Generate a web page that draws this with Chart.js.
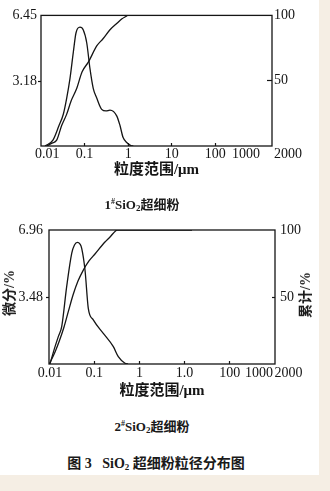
<!DOCTYPE html>
<html>
<head>
<meta charset="utf-8">
<script src="https://cdn.jsdelivr.net/npm/chart.js@4/dist/chart.umd.min.js"></script>
<style>
  html, body { margin: 0; padding: 0; background: #f5eee4; }
  #page { position: relative; width: 319px; height: 475px; background: #ffffff; overflow: visible; }
  canvas { position: absolute; left: 0; }
  #c1 { top: 0; }
  #c2 { top: 212px; }
  .txt {
    position: absolute; white-space: nowrap; color: #1a1a1a;
    font-family: 'Liberation Serif', 'Noto Sans CJK SC', serif;
    transform: translate(-50%, -50%);
  }
  .cap { font-size: 13px; font-weight: bold; }
  .fig { font-size: 14px; font-weight: bold; }
  .ytitle { font-size: 14px; font-weight: bold; transform: translate(-50%, -50%) rotate(-90deg); }
  sup { font-size: 8px; vertical-align: 5px; }
  sub { font-size: 9px; vertical-align: -2px; }
</style>
</head>
<body>
<div id="page">
  <canvas id="c1" width="330" height="185"></canvas>
  <canvas id="c2" width="330" height="190"></canvas>
  <div class="txt cap" style="left:142px; top:203px;">1<sup>#</sup>SiO<sub>2</sub>超细粉</div>
  <div class="txt ytitle" style="left:8px; top:293px;">微分/%</div>
  <div class="txt ytitle" style="left:304px; top:295px;">累计/%</div>
  <div class="txt cap" style="left:152px; top:425px;">2<sup>#</sup>SiO<sub>2</sub>超细粉</div>
  <div class="txt fig" style="left:156px; top:462px;">图 3&nbsp;&nbsp;&nbsp;SiO<sub>2</sub> 超细粉粒径分布图</div>
</div>
<script>
// ---- 1# SiO2 powder: particle size (μm) vs differential % and cumulative % ----
const diffSize1 = [0.0124, 0.0188, 0.0259, 0.0325, 0.0389, 0.0463, 0.0551, 0.0635, 0.0785, 0.0935,
                   0.112, 0.133, 0.158, 0.19, 0.247, 0.31, 0.383, 0.546, 0.65, 0.762, 0.927, 1.16, 1.31];
const diffPct1  = [0, 0.29, 1.01, 1.57, 2.37, 3.34, 4.62, 5.58, 5.87, 5.73,
                   5.10, 3.82, 2.85, 2.37, 1.81, 1.73, 1.77, 1.49, 1.01, 0.43, 0.17, 0.02, 0];
const cumSize1  = [0.0135, 0.0179, 0.0229, 0.0298, 0.0389, 0.0488, 0.0659, 0.0873, 0.122, 0.19,
                   0.265, 0.383, 0.555, 0.722, 0.927, 0.96];
const cumPct1   = [0, 2.2, 4.5, 15.7, 24.4, 34.3, 44, 56.7, 64.2, 76.6,
                   82.1, 89, 94, 97.4, 99.6, 100];

// ---- 2# SiO2 powder ----
const diffSize2 = [0.0105, 0.0136, 0.0162, 0.0191, 0.0246, 0.0318, 0.0366, 0.0423, 0.0485, 0.0529,
                   0.0626, 0.074, 0.0955, 0.159, 0.265, 0.341, 0.48, 0.56];
const diffPct2  = [0, 0.90, 1.45, 1.94, 4.02, 5.75, 6.18, 6.32, 6.23, 6.01,
                   4.88, 2.89, 2.29, 1.59, 0.90, 0.38, 0.04, 0];
const cumSize2  = [0.0102, 0.0136, 0.0166, 0.0215, 0.027, 0.034, 0.0438, 0.0574, 0.0767, 0.104,
                   0.173, 0.224, 0.296, 0.319, 14.6];
const cumPct2   = [0, 9.0, 16.4, 27.6, 39.6, 51.5, 61.9, 70.1, 76.9, 82.1,
                   91.0, 94.8, 99.3, 100, 100];

// ---- axes ----
const xMin = 0.01;
const xMax1 = 2000;
const xMax2 = 1000;
const xTickVals = [0.01, 0.1, 1, 10, 100, 1000, 2000];
const xTickText1 = ['0.01', '0.1', '1', '10', '100', '1000', '2000'];
const xTickText2 = ['0.01', '0.1', '1', '1.0', '100', '1000', '2000'];
const xTickMarks = [0.1, 1, 10, 100];
const yLeftMax1 = 6.45;
const yLeftTicks1 = [3.18, 6.45];
const yLeftMax2 = 6.96;
const yLeftTicks2 = [3.48, 6.96];
const yRightMax = 100;
const yRightTicks = [50, 100];
const xTitle = '粒度范围/μm';

const INK = '#151515';
const NUM_FONT = { family: "'Liberation Serif', 'Times New Roman', serif", size: 14 };

const pts = (xs, ys) => xs.map((x, i) => ({ x, y: ys[i] }));

// frame around the plotting area
const framePlugin = {
  id: 'frame',
  afterDatasetsDraw(chart) {
    const { ctx, chartArea: a } = chart;
    ctx.save();
    ctx.strokeStyle = INK;
    ctx.lineWidth = 1.3;
    ctx.strokeRect(a.left, a.top, a.right - a.left, a.bottom - a.top);
    ctx.restore();
  }
};

// size labels under the log axis
const xLabelPlugin = {
  id: 'xLabels',
  afterDraw(chart, args, o) {
    const sc = chart.scales.x;
    const ctx = chart.ctx;
    ctx.save();
    ctx.font = `${NUM_FONT.size}px ${NUM_FONT.family}`;
    ctx.fillStyle = INK;
    ctx.textBaseline = 'middle';
    o.values.forEach((v, i) => {
      ctx.textAlign = o.align[i];
      ctx.fillText(o.labels[i], sc.getPixelForValue(v) + o.shift[i], sc.top + o.pad);
    });
    ctx.restore();
  }
};

function makeChart(id, cfg) {
  const hideTop = (max, col) => (c) => (c.tick && c.tick.value >= max ? 'rgba(0,0,0,0)' : col);
  return new Chart(document.getElementById(id), {
    type: 'line',
    data: {
      datasets: [
        { data: pts(cfg.diffSize, cfg.diffPct), yAxisID: 'y' },
        { data: pts(cfg.cumSize, cfg.cumPct), yAxisID: 'y2' }
      ]
    },
    options: {
      responsive: false,
      devicePixelRatio: 1,
      animation: false,
      parsing: true,
      layout: { padding: { top: cfg.padTop, left: 0, right: 0, bottom: 0 } },
      elements: {
        point: { radius: 0 },
        line: { borderColor: INK, borderWidth: 1.3, fill: false, cubicInterpolationMode: 'monotone' }
      },
      plugins: {
        legend: { display: false },
        tooltip: { enabled: false },
        xLabels: { values: xTickVals, labels: cfg.xText, align: cfg.xAlign, shift: cfg.xShift, pad: cfg.xPad }
      },
      scales: {
        x: {
          type: 'logarithmic',
          min: xMin,
          max: cfg.xMax,
          afterBuildTicks: (s) => { s.ticks = xTickMarks.map(v => ({ value: v })); },
          afterFit: (s) => { s.height = cfg.xHeight; },
          ticks: { display: false },
          border: { display: false },
          grid: { drawOnChartArea: false, tickLength: -3, tickColor: INK, tickWidth: 1.2 },
          title: {
            display: true, text: xTitle, color: INK,
            font: { family: "'Liberation Serif', 'Noto Sans CJK SC', serif", size: 15, weight: 'bold' },
            padding: { top: 0, bottom: cfg.titlePad }
          }
        },
        y: {
          type: 'linear', position: 'left', min: 0, max: cfg.yLeftMax,
          afterBuildTicks: (s) => { s.ticks = cfg.yLeftTicks.map(v => ({ value: v })); },
          afterFit: (s) => { s.width = cfg.leftW; },
          ticks: { color: INK, font: NUM_FONT, padding: cfg.leftPad, callback: (v) => v.toFixed(2) },
          border: { display: false },
          grid: { drawOnChartArea: false, tickLength: 3, tickWidth: 1.2, tickColor: hideTop(cfg.yLeftMax, INK) }
        },
        y2: {
          type: 'linear', position: 'right', min: 0, max: yRightMax,
          afterBuildTicks: (s) => { s.ticks = yRightTicks.map(v => ({ value: v })); },
          afterFit: (s) => { s.width = cfg.rightW; },
          ticks: { color: INK, font: NUM_FONT, padding: cfg.rightPad, callback: (v) => String(v) },
          border: { display: false },
          grid: { drawOnChartArea: false, tickLength: cfg.rightTick, tickWidth: 1.2, tickColor: hideTop(yRightMax, INK) }
        }
      }
    },
    plugins: [framePlugin, xLabelPlugin]
  });
}

makeChart('c1', {
  diffSize: diffSize1, diffPct: diffPct1, cumSize: cumSize1, cumPct: cumPct1,
  xMax: xMax1, xText: xTickText1,
  xAlign: ['left', 'center', 'center', 'center', 'center', 'right', 'left'],
  xShift: [-6, 0, 0, 0, 0, 1, 2], xPad: 8,
  yLeftMax: yLeftMax1, yLeftTicks: yLeftTicks1,
  padTop: 12, xHeight: 39, titlePad: 6,
  leftW: 41, rightW: 58, leftPad: 1, rightPad: 7, rightTick: -5
});

makeChart('c2', {
  diffSize: diffSize2, diffPct: diffPct2, cumSize: cumSize2, cumPct: cumPct2,
  xMax: xMax2, xText: xTickText2,
  xAlign: ['center', 'center', 'center', 'center', 'center', 'right', 'center'],
  xShift: [1, 0, 0, 0, 0, -2, 0], xPad: 9,
  yLeftMax: yLeftMax2, yLeftTicks: yLeftTicks2,
  padTop: 18, xHeight: 38, titlePad: 2,
  leftW: 49, rightW: 55, leftPad: 3, rightPad: 8, rightTick: -3
});
</script>
</body>
</html>
